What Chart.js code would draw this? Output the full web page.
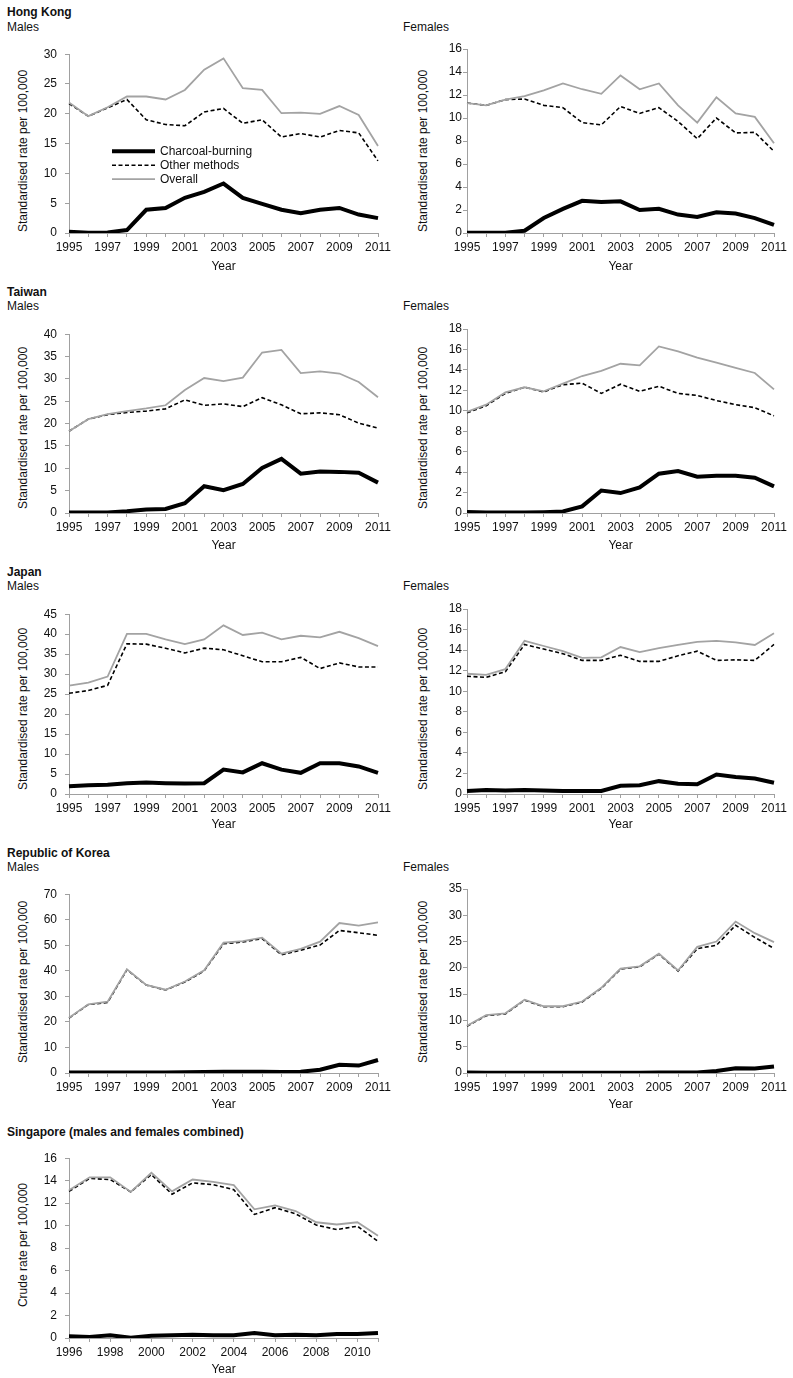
<!DOCTYPE html>
<html>
<head>
<meta charset="utf-8">
<script src="https://cdn.jsdelivr.net/npm/chart.js@4.4.0/dist/chart.umd.min.js"></script>
<style>
	body { margin: 0; width: 793px; height: 1378px; background: #fff; position: relative; overflow: hidden; font-family: "Liberation Sans", Arial, sans-serif; color: #111; }
	canvas { position: absolute; }
	.lbl { position: absolute; font-size: 12px; line-height: 14px; white-space: nowrap; }
	.bold { font-weight: bold; }
	.ytitle { position: absolute; font-size: 12px; line-height: 14px; white-space: nowrap; transform: translate(-50%, -50%) rotate(-90deg); }
</style>
</head>
<body>

<div class="lbl bold" style="left:7px; top:5px;">Hong Kong</div>
<div class="lbl" style="left:7px; top:20px;">Males</div>
<div class="lbl" style="left:403px; top:20px;">Females</div>

<div class="lbl bold" style="left:7px; top:285px;">Taiwan</div>
<div class="lbl" style="left:7px; top:299px;">Males</div>
<div class="lbl" style="left:403px; top:299px;">Females</div>

<div class="lbl bold" style="left:7px; top:565px;">Japan</div>
<div class="lbl" style="left:7px; top:579px;">Males</div>
<div class="lbl" style="left:403px; top:579px;">Females</div>

<div class="lbl bold" style="left:7px; top:846px;">Republic of Korea</div>
<div class="lbl" style="left:7px; top:860px;">Males</div>
<div class="lbl" style="left:403px; top:860px;">Females</div>

<div class="lbl bold" style="left:7px; top:1125px;">Singapore (males and females combined)</div>

<div class="ytitle" style="left:23px; top:151px;">Standardised rate per 100,000</div>
<div class="ytitle" style="left:423px; top:151px;">Standardised rate per 100,000</div>
<div class="ytitle" style="left:23px; top:428px;">Standardised rate per 100,000</div>
<div class="ytitle" style="left:423px; top:428px;">Standardised rate per 100,000</div>
<div class="ytitle" style="left:23px; top:709px;">Standardised rate per 100,000</div>
<div class="ytitle" style="left:423px; top:709px;">Standardised rate per 100,000</div>
<div class="ytitle" style="left:23px; top:982px;">Standardised rate per 100,000</div>
<div class="ytitle" style="left:423px; top:982px;">Standardised rate per 100,000</div>
<div class="ytitle" style="left:23px; top:1245px;">Crude rate per 100,000</div>

<script>
var years   = ['1995','1996','1997','1998','1999','2000','2001','2002','2003','2004','2005','2006','2007','2008','2009','2010','2011'];
var yearsSg = ['1996','1997','1998','1999','2000','2001','2002','2003','2004','2005','2006','2007','2008','2009','2010','2011'];

// Hong Kong
var hkMaleCharcoal   = [0.2, 0.05, 0.1, 0.5, 3.9, 4.2, 5.9, 6.9, 8.3, 5.9, 4.9, 3.9, 3.3, 3.9, 4.2, 3.1, 2.5];
var hkMaleOther      = [21.7, 19.6, 21.0, 22.4, 19.0, 18.2, 18.0, 20.3, 20.9, 18.4, 19.0, 16.1, 16.7, 16.1, 17.2, 16.8, 12.1];
var hkMaleOverall    = [21.9, 19.6, 21.1, 22.9, 22.9, 22.4, 24.0, 27.4, 29.3, 24.3, 24.0, 20.1, 20.2, 20.0, 21.3, 19.8, 14.6];
var hkFemaleCharcoal = [0.02, 0.02, 0.02, 0.2, 1.3, 2.1, 2.8, 2.7, 2.75, 2.0, 2.1, 1.6, 1.4, 1.8, 1.7, 1.3, 0.7];
var hkFemaleOther    = [11.3, 11.1, 11.6, 11.65, 11.1, 10.9, 9.6, 9.4, 11.0, 10.4, 10.9, 9.7, 8.2, 10.0, 8.7, 8.75, 7.1];
var hkFemaleOverall  = [11.3, 11.1, 11.6, 11.9, 12.4, 13.0, 12.5, 12.1, 13.7, 12.5, 13.0, 11.1, 9.6, 11.8, 10.4, 10.1, 7.8];

// Taiwan
var twMaleCharcoal   = [0.1, 0.1, 0.1, 0.4, 0.8, 0.9, 2.2, 6.0, 5.1, 6.5, 10.1, 12.1, 8.8, 9.3, 9.2, 9.0, 6.8];
var twMaleOther      = [18.3, 21.0, 22.0, 22.5, 22.8, 23.3, 25.3, 24.1, 24.4, 23.8, 25.8, 24.2, 22.2, 22.4, 22.0, 20.1, 19.0];
var twMaleOverall    = [18.3, 21.0, 22.1, 22.8, 23.4, 24.1, 27.5, 30.2, 29.5, 30.3, 35.9, 36.5, 31.3, 31.7, 31.2, 29.3, 25.9];
var twFemaleCharcoal = [0.1, 0.05, 0.05, 0.05, 0.08, 0.15, 0.65, 2.2, 1.95, 2.5, 3.85, 4.1, 3.55, 3.65, 3.65, 3.45, 2.6];
var twFemaleOther    = [9.8, 10.5, 11.7, 12.3, 11.85, 12.55, 12.7, 11.7, 12.6, 11.9, 12.4, 11.7, 11.5, 11.0, 10.6, 10.3, 9.5];
var twFemaleOverall  = [9.9, 10.6, 11.8, 12.3, 11.9, 12.65, 13.4, 13.9, 14.6, 14.45, 16.3, 15.8, 15.2, 14.7, 14.2, 13.7, 12.1];

// Japan
var jpMaleCharcoal   = [1.95, 2.2, 2.3, 2.7, 2.9, 2.7, 2.6, 2.7, 6.1, 5.4, 7.7, 6.1, 5.3, 7.7, 7.7, 6.9, 5.3];
var jpMaleOther      = [25.2, 25.9, 27.2, 37.6, 37.5, 36.5, 35.3, 36.5, 36.1, 34.6, 33.1, 33.1, 34.2, 31.4, 32.8, 31.8, 31.8];
var jpMaleOverall    = [27.1, 27.9, 29.4, 40.1, 40.1, 38.7, 37.5, 38.7, 42.2, 39.8, 40.4, 38.7, 39.6, 39.2, 40.6, 39.0, 37.0];
var jpFemaleCharcoal = [0.3, 0.4, 0.35, 0.4, 0.35, 0.3, 0.3, 0.3, 0.8, 0.85, 1.25, 1.0, 0.95, 1.9, 1.65, 1.5, 1.1];
var jpFemaleOther    = [11.45, 11.35, 11.9, 14.55, 14.1, 13.65, 13.0, 13.0, 13.5, 12.9, 12.9, 13.45, 13.9, 13.0, 13.05, 13.0, 14.55];
var jpFemaleOverall  = [11.7, 11.6, 12.15, 14.9, 14.4, 13.9, 13.25, 13.3, 14.3, 13.8, 14.2, 14.5, 14.8, 14.9, 14.75, 14.5, 15.65];

// Republic of Korea
var krMaleCharcoal   = [0.2, 0.2, 0.2, 0.2, 0.2, 0.2, 0.3, 0.4, 0.5, 0.5, 0.5, 0.4, 0.5, 1.3, 3.2, 2.9, 5.1];
var krMaleOther      = [21.5, 26.8, 27.6, 40.4, 34.4, 32.5, 35.6, 40.0, 50.6, 51.3, 52.6, 46.3, 48.1, 50.1, 55.8, 54.9, 53.9];
var krMaleOverall    = [21.6, 26.9, 27.9, 40.6, 34.5, 32.6, 35.8, 40.2, 51.0, 51.6, 53.0, 46.7, 48.6, 51.4, 58.7, 57.7, 59.0];
var krFemaleCharcoal = [0.1, 0.05, 0.05, 0.05, 0.05, 0.05, 0.05, 0.05, 0.05, 0.05, 0.1, 0.1, 0.1, 0.4, 0.9, 0.85, 1.25];
var krFemaleOther    = [8.9, 10.9, 11.25, 13.85, 12.6, 12.6, 13.5, 16.1, 19.75, 20.2, 22.6, 19.4, 23.65, 24.3, 28.1, 25.8, 23.7];
var krFemaleOverall  = [9.0, 11.0, 11.35, 13.95, 12.7, 12.7, 13.6, 16.2, 19.85, 20.3, 22.7, 19.5, 24.0, 25.0, 28.8, 26.6, 24.9];

// Singapore (1996-2011)
var sgCharcoal = [0.15, 0.1, 0.25, 0.02, 0.2, 0.25, 0.3, 0.25, 0.25, 0.45, 0.25, 0.3, 0.25, 0.35, 0.35, 0.45];
var sgOther    = [13.05, 14.2, 14.1, 13.0, 14.55, 12.8, 13.8, 13.65, 13.2, 11.0, 11.6, 11.05, 10.05, 9.65, 9.95, 8.6];
var sgOverall  = [13.15, 14.3, 14.3, 13.0, 14.7, 13.05, 14.1, 13.9, 13.6, 11.45, 11.8, 11.3, 10.3, 10.1, 10.3, 9.1];

Chart.defaults.font.family = '"Liberation Sans", Arial, sans-serif';
Chart.defaults.font.size = 12;
Chart.defaults.color = '#111';

var AXIS = '#a0a0a0';

// legend drawn inside the Hong Kong males plot
var legendPlugin = {
	id: 'inlineLegend',
	afterDatasetsDraw: function (chart) {
		var ctx = chart.ctx, a = chart.chartArea;
		chart.data.datasets.forEach(function (ds, i) {
			var y = a.top + 97 + i * 14;
			ctx.save();
			ctx.strokeStyle = ds.borderColor;
			ctx.lineWidth = ds.borderWidth;
			ctx.setLineDash(ds.borderDash || []);
			ctx.beginPath();
			ctx.moveTo(a.left + 43, y);
			ctx.lineTo(a.left + 86, y);
			ctx.stroke();
			ctx.setLineDash([]);
			ctx.fillStyle = '#111';
			ctx.font = '12px "Liberation Sans", Arial, sans-serif';
			ctx.textBaseline = 'middle';
			ctx.fillText(ds.label, a.left + 91, y);
			ctx.restore();
		});
	}
};

function drawPanel(p) {
	var T = p.top - 10;
	var H = p.year + 10 - T;
	var cv = document.createElement('canvas');
	cv.width = p.w;
	cv.height = H;
	cv.style.left = p.left + 'px';
	cv.style.top = T + 'px';
	document.body.appendChild(cv);

	new Chart(cv, {
		type: 'line',
		data: {
			labels: p.labels,
			datasets: [
				// order: charcoal on top, overall above the dashed line
				{ label: 'Charcoal-burning', data: p.charcoal, borderColor: '#000', borderWidth: 4, order: 0 },
				{ label: 'Other methods', data: p.other, borderColor: '#000', borderWidth: 1.6, borderDash: [4, 2.5], order: 2 },
				{ label: 'Overall', data: p.overall, borderColor: '#a3a3a3', borderWidth: 1.8, order: 1 }
			]
		},
		options: {
			responsive: false,
			animation: false,
			devicePixelRatio: 1,
			elements: { point: { radius: 0 }, line: { tension: 0, fill: false } },
			layout: { padding: { top: 10, right: p.padRight, left: 0, bottom: 0 } },
			plugins: { legend: { display: false }, tooltip: { enabled: false } },
			scales: {
				x: {
					grid: { display: true, drawOnChartArea: false, drawTicks: true, tickLength: 4, color: AXIS },
					border: { display: true, color: AXIS },
					ticks: {
						autoSkip: false, maxRotation: 0, padding: 3,
						callback: function (value, index) { return index % 2 === 0 ? this.getLabelForValue(value) : ''; }
					},
					title: { display: true, text: 'Year', padding: { top: 0, bottom: 3 } },
					afterFit: function (s) { s.height = p.year + 10 - p.bottom; }
				},
				y: {
					min: 0, max: p.max,
					grid: { display: true, drawOnChartArea: false, drawTicks: true, tickLength: 4, color: AXIS },
					border: { display: true, color: AXIS },
					ticks: { stepSize: p.step, padding: p.tickPad },
					afterFit: function (s) { s.width = p.axisW; }
				}
			}
		},
		plugins: p.legend ? [legendPlugin] : []
	});
}

var rows = [
	{ top: 49,   bottom: 233,  year: 267 },
	{ top: 329,  bottom: 513,  year: 546 },
	{ top: 609,  bottom: 794,  year: 825 },
	{ top: 889,  bottom: 1073, year: 1105 },
	{ top: 1153, bottom: 1338, year: 1370 }
];

function leftPanel(row, labels, charcoal, other, overall, max, step, legend) {
	drawPanel({ left: 0, w: 395, padRight: 17, axisW: 69, tickPad: 8, top: row.top, bottom: row.bottom, year: row.year,
		labels: labels, charcoal: charcoal, other: other, overall: overall, max: max, step: step, legend: legend });
}
function rightPanel(row, labels, charcoal, other, overall, max, step) {
	drawPanel({ left: 400, w: 393, padRight: 19, axisW: 67, tickPad: 1, top: row.top, bottom: row.bottom, year: row.year,
		labels: labels, charcoal: charcoal, other: other, overall: overall, max: max, step: step, legend: false });
}

leftPanel(rows[0], years, hkMaleCharcoal, hkMaleOther, hkMaleOverall, 30, 5, true);
rightPanel(rows[0], years, hkFemaleCharcoal, hkFemaleOther, hkFemaleOverall, 16, 2);
leftPanel(rows[1], years, twMaleCharcoal, twMaleOther, twMaleOverall, 40, 5, false);
rightPanel(rows[1], years, twFemaleCharcoal, twFemaleOther, twFemaleOverall, 18, 2);
leftPanel(rows[2], years, jpMaleCharcoal, jpMaleOther, jpMaleOverall, 45, 5, false);
rightPanel(rows[2], years, jpFemaleCharcoal, jpFemaleOther, jpFemaleOverall, 18, 2);
leftPanel(rows[3], years, krMaleCharcoal, krMaleOther, krMaleOverall, 70, 10, false);
rightPanel(rows[3], years, krFemaleCharcoal, krFemaleOther, krFemaleOverall, 35, 5);
leftPanel(rows[4], yearsSg, sgCharcoal, sgOther, sgOverall, 16, 2, false);
</script>
</body>
</html>
